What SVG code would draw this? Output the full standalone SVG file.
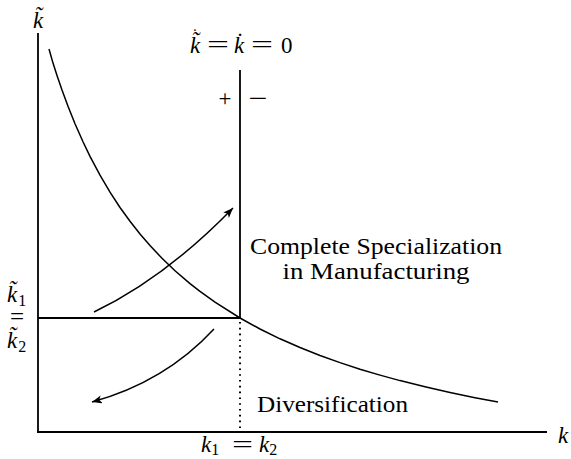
<svg xmlns="http://www.w3.org/2000/svg" width="571" height="459" viewBox="0 0 571 459">
<defs>
<style>
.ax{stroke:#000;stroke-width:1.8;fill:none}
.cv{stroke:#000;stroke-width:1.5;fill:none}
.dot{stroke:#000;stroke-width:2;stroke-dasharray:1.6 4.2;fill:none}
text{fill:#000;font-family:"Liberation Serif",serif}
.m{font-style:italic;font-size:23px}
.r{font-size:23px}
.s{font-size:16px;font-style:normal}
.eq{font-size:25px;font-style:normal}
.t{font-size:24px}
</style>
<marker id="ah" markerUnits="userSpaceOnUse" markerWidth="12" markerHeight="10" refX="10" refY="4" orient="auto">
<path d="M0,0 L10,4 L0,8 L2.5,4 Z" fill="#000"/>
</marker>
</defs>
<rect width="571" height="459" fill="#fff"/>
<g id="axes">
<line class="ax" x1="38" y1="33" x2="38" y2="432"/>
<line class="ax" x1="37" y1="432" x2="547" y2="432"/>
</g>
<g id="connectors">
<line class="ax" x1="240" y1="70" x2="240" y2="318"/>
<line class="ax" x1="38" y1="318" x2="240" y2="318"/>
<line class="dot" x1="240" y1="322" x2="240" y2="430"/>
<polyline class="cv" points="49,49 53,63.1 57,75.5 62,90.1 68,106.3 75,123.7 83,141.8 90,156.4 100,175.2 110,192.2 120,207.5 130,221.3 140,234 150,245.6 162,258.3 175,270.7 190,283.6 200,291.4 215,302.2 240,318 260,329 280,338.8 300,347.5 320,355.5 340,362.6 360,369.2 380,375.1 400,380.6 425,386.8 450,392.5 475,397.7 498,402"/>
<path class="cv" d="M94,312 Q165,278 233,208" marker-end="url(#ah)"/>
<path class="cv" d="M214,329 Q165,382 92,402" marker-end="url(#ah)"/>
</g>
<g id="label-ktilde-axis">
<text class="m" x="33" y="28">k̃</text>
</g>
<g id="label-locus">
<text class="m" x="190" y="53">k̃<tspan class="s" font-size="20" dx="-8" dy="-13">˙</tspan></text>
<text class="eq" x="207" y="53" textLength="22" lengthAdjust="spacingAndGlyphs">=</text>
<text class="m" x="234" y="53">k̇</text>
<text class="eq" x="251" y="53" textLength="22" lengthAdjust="spacingAndGlyphs">=</text>
<text class="r" x="281" y="53" font-size="24">0</text>
</g>
<g id="label-signs">
<text class="r" x="225" y="106" text-anchor="middle" font-size="30">+</text>
<text class="r" x="258" y="106" text-anchor="middle" font-size="30" textLength="19" lengthAdjust="spacingAndGlyphs">−</text>
</g>
<g id="label-specialization">
<text class="t" x="376" y="254" text-anchor="middle" textLength="252" lengthAdjust="spacingAndGlyphs">Complete Specialization</text>
<text class="t" x="376" y="279" text-anchor="middle" textLength="187" lengthAdjust="spacingAndGlyphs">in Manufacturing</text>
</g>
<g id="label-diversification">
<text class="t" x="257" y="412" textLength="151" lengthAdjust="spacingAndGlyphs">Diversification</text>
</g>
<g id="label-left">
<text class="m"><tspan x="7" y="302">k̃</tspan><tspan class="s" dx="1" dy="4">1</tspan><tspan class="eq" x="10" y="325">=</tspan><tspan x="7" y="348">k̃</tspan><tspan class="s" dx="1" dy="4">2</tspan></text>
</g>
<g id="label-bottom">
<text class="m" x="201" y="452">k<tspan class="s" dy="3">1</tspan></text>
<text class="eq" x="232" y="453" textLength="21" lengthAdjust="spacingAndGlyphs">=</text>
<text class="m" x="259" y="452">k<tspan class="s" dy="3">2</tspan></text>
</g>
<g id="label-k-axis">
<text class="m" x="558" y="443">k</text>
</g>
</svg>
